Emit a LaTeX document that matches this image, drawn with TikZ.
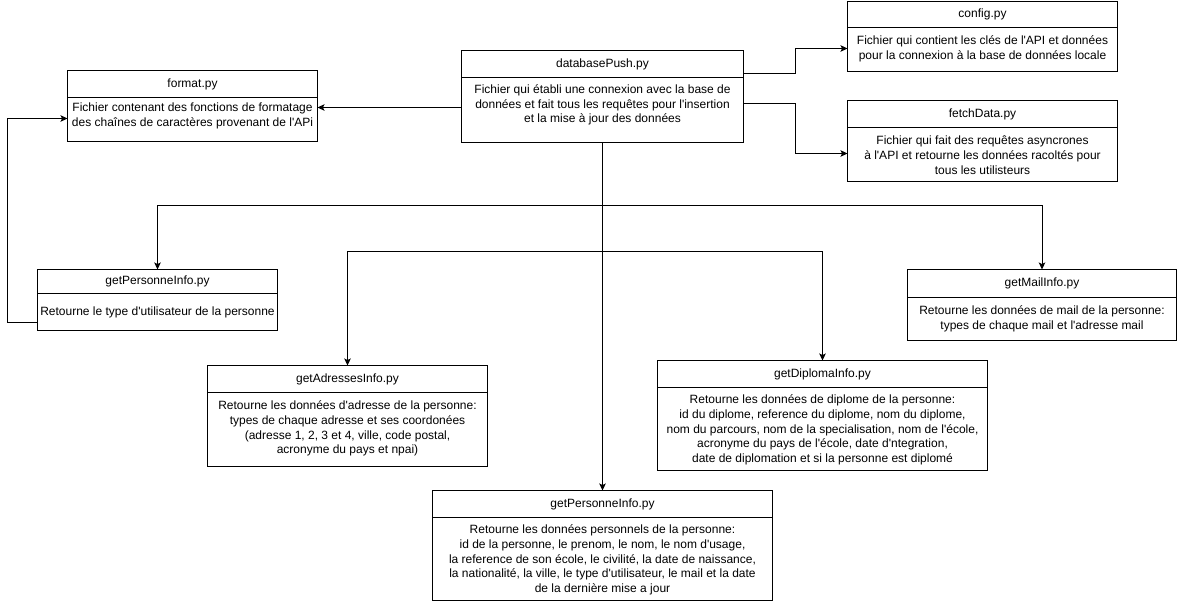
\documentclass[tikz,border=0pt]{standalone}
\usepackage{fontspec}
\setmainfont{Liberation Sans}[Ligatures=TeXOff]
\usetikzlibrary{arrows.meta}
\tikzset{
  pyframe/.style={draw, line width=1pt, inner sep=0pt, outer sep=0pt, rectangle},
  sepline/.style={line width=1pt},
  titletext/.style={font=\fontsize{12}{14.4}\selectfont, inner sep=0pt, align=center},
  bodytext/.style={font=\fontsize{12}{14.8}\selectfont, inner sep=0pt, align=center},
  conn/.style={line width=1pt, -{Stealth[length=7pt,width=6.5pt,inset=1.5pt]}},
}
% #1 name, #2 left, #3 top, #4 right, #5 separator, #6 bottom, #7 title, #8 body centre y, #9 body
\newcommand\pybox[9]{%
  \node[pyframe, minimum width={(#4-#2)*1pt}, minimum height={(#6-#3)*1pt}, anchor=north west] (#1) at (#2,#3) {};
  \draw[sepline] (#1.west |- 0,#5) -- (#1.east |- 0,#5);
  \node[titletext] (#1-t) at ({(#2+#4)/2},{(#3+#5)/2}) {#7};
  \node[bodytext] (#1-b) at ({(#2+#4)/2},#8) {#9};
}
\begin{document}
\begin{tikzpicture}[x=1pt,y=-1pt]
\useasboundingbox (0,0) rectangle (1178,604);

\pybox{cfg}{847.5}{1.5}{1117.5}{27.5}{71.5}{config.py}{48.5}{Fichier qui contient les clés de l'API et données\\pour la connexion à la base de données locale}
\pybox{fetch}{847.5}{100.5}{1117.5}{127.5}{181.5}{fetchData.py}{155}{Fichier qui fait des requêtes asyncrones\\à l'API et retourne les données racoltés pour\\tous les utilisteurs}
\pybox{db}{461.5}{50.5}{743.5}{77.5}{142.5}{databasePush.py}{105}{Fichier qui établi une connexion avec la base de\\données et fait tous les requêtes pour l'insertion\\et la mise à jour des données}
\pybox{fmt}{67.5}{70.5}{317.5}{97.5}{141.5}{format.py}{115.5}{Fichier contenant des fonctions de formatage\\des chaînes de caractères provenant de l'APi}
\pybox{pS}{37.5}{269.5}{277.5}{293.5}{330.5}{getPersonneInfo.py}{312.5}{Retourne le type d'utilisateur de la personne}
\pybox{mail}{907.5}{269.5}{1176.5}{297.5}{340.5}{getMailInfo.py}{318.5}{Retourne les données de mail de la personne:\\types de chaque mail et l'adresse mail}
\pybox{adr}{207.5}{365.5}{487.5}{392.5}{466.5}{getAdressesInfo.py}{428.5}{Retourne les données d'adresse de la personne:\\types de chaque adresse et ses coordonées\\(adresse 1, 2, 3 et 4, ville, code postal,\\acronyme du pays et npai)}
\pybox{dip}{657.5}{360.5}{987.5}{387.5}{470.5}{getDiplomaInfo.py}{430}{Retourne les données de diplome de la personne:\\id du diplome, reference du diplome, nom du diplome,\\nom du parcours, nom de la specialisation, nom de l'école,\\acronyme du pays de l'école, date d'ntegration,\\date de diplomation et si la personne est diplomé}
\pybox{pB}{432.5}{490.5}{772.5}{517.5}{600.5}{getPersonneInfo.py}{560}{Retourne les données personnels de la personne:\\id de la personne, le prenom, le nom, le nom d'usage,\\la reference de son école, le civilité, la date de naissance,\\la nationalité, la ville, le type d'utilisateur, le mail et la date\\de la dernière mise a jour}

\draw[conn] (db.west |- 0,107.5) -- (fmt.east |- 0,107.5);
\draw[conn] (db.east |- 0,73.5) -- ++(52,0) |- (cfg.west |- 0,48.5);
\draw[conn] (db.east |- 0,103.5) -- ++(52,0) |- (fetch.west |- 0,153.5);
\draw[conn] (pS.west |- 0,322.5) -- ++(-30,0) |- (fmt.west |- 0,118.5);
\draw[conn] (db.south) -- (pB.north);
\draw[conn] (db.south) -- (db.south |- 0,205.5) -| (pS.north);
\draw[conn] (db.south |- 0,205.5) -| (mail.north);
\draw[conn] (db.south |- 0,251.5) -| (adr.north);
\draw[conn] (db.south |- 0,251.5) -| (dip.north);
\end{tikzpicture}
\end{document}
